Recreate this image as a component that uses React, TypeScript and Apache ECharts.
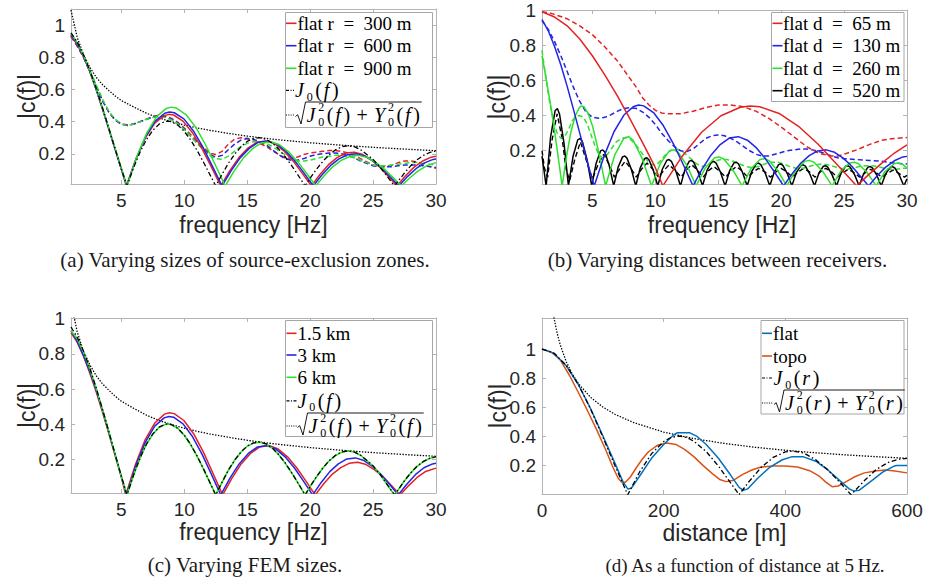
import React, { useEffect, useRef } from 'react';
import * as echarts from 'echarts';

// ---------------- tick values ----------------
const freqTicks = [5, 10, 15, 20, 25, 30];
const distTicks = [0, 200, 400, 600];
const corrTicks = [0.2, 0.4, 0.6, 0.8, 1];

// ---------------- shared reference curves (frequency panels a, c) ----------------
const besselJ0Freq = [[1,.952],[1.5,.893],[2,.814],[2.5,.718],[3,.607],[3.5,.486],[4,.36],[4.5,.231],[5,.106],[5.45,0],[6,.119],[6.5,.212],[7,.289],[7.5,.346],[8,.384],[8.5,.401],[8.75,.403],[9,.398],[9.5,.377],[10,.339],[10.5,.287],[11,.223],[11.5,.152],[12,.076],[12.5,0],[13,.072],[13.5,.14],[14,.197],[14.5,.243],[15,.277],[15.5,.295],[16,.3],[16.5,.29],[17,.266],[17.5,.229],[18,.183],[18.5,.13],[19,.072],[19.6,0],[20,.048],[20.5,.103],[21,.152],[21.5,.193],[22,.224],[22.5,.243],[23,.25],[23.5,.244],[24,.226],[24.5,.196],[25,.165],[25.5,.122],[26,.072],[26.7,0],[27,.03],[27.5,.081],[28,.126],[28.5,.163],[29,.19],[29.5,.208],[30,.217]];
const besselEnvFreq = [[1,1.093],[1.5,.922],[2,.814],[2.5,.737],[3,.676],[3.5,.63],[4,.594],[4.5,.56],[5,.531],[6,.49],[7,.452],[8,.422],[9,.399],[10,.378],[11,.361],[12,.346],[13,.333],[14,.321],[15,.31],[16,.3],[17,.291],[18,.283],[20,.2685],[22,.256],[24,.245],[26,.2355],[28,.227],[30,.219]];

// ---------------- (a) source-exclusion zones ----------------
const aFlat300 = [[1,.93],[1.5,.88],[2,.8],[2.5,.71],[3,.6],[3.5,.48],[4,.355],[4.5,.23],[5,.105],[5.4,0],[6.15,.166],[6.9,.298],[7.65,.39],[8.4,.437],[8.78,.445],[9.15,.441],[9.9,.403],[10.65,.331],[11.4,.233],[12.15,.118],[12.9,0],[13.62,.095],[14.34,.176],[15.06,.235],[15.78,.272],[16.5,.28],[17.22,.26],[17.94,.216],[18.66,.154],[19.38,.078],[20.1,0],[20.78,.071],[21.46,.132],[22.14,.176],[22.82,.204],[23.5,.21],[24.18,.195],[24.86,.162],[25.54,.116],[26.22,.059],[26.9,0],[27.58,.063],[28.26,.117],[28.94,.155],[29.62,.179],[30,.184]];
const aFlat600 = [[1,.94],[1.5,.885],[2,.805],[2.5,.712],[3,.6],[3.5,.48],[4,.355],[4.5,.23],[5,.105],[5.42,0],[6.18,.171],[6.94,.308],[7.69,.403],[8.45,.452],[8.83,.46],[9.21,.455],[9.97,.417],[10.73,.342],[11.48,.241],[12.24,.122],[13,0],[13.73,.095],[14.45,.176],[15.18,.235],[15.9,.272],[16.63,.28],[17.35,.26],[18.08,.216],[18.8,.154],[19.53,.078],[20.25,0],[20.93,.068],[21.61,.126],[22.29,.168],[22.97,.194],[23.65,.2],[24.33,.186],[25.01,.154],[25.69,.11],[26.37,.056],[27.05,0],[27.73,.058],[28.41,.107],[29.09,.143],[29.77,.165],[30,.168]];
const aFlat900 = [[1,.95],[1.5,.89],[2,.81],[2.5,.715],[3,.605],[3.5,.485],[4,.36],[4.5,.235],[5,.11],[5.45,0],[6.23,.182],[7.01,.328],[7.79,.429],[8.57,.482],[8.96,.49],[9.35,.485],[10.13,.444],[10.91,.365],[11.69,.256],[12.47,.13],[13.25,0],[13.97,.094],[14.69,.173],[15.41,.231],[16.13,.267],[16.85,.275],[17.57,.256],[18.29,.212],[19.01,.151],[19.73,.077],[20.45,0],[21.13,.065],[21.81,.12],[22.49,.16],[23.17,.184],[23.85,.19],[24.53,.177],[25.21,.146],[25.89,.105],[26.57,.053],[27.25,0],[27.93,.051],[28.61,.095],[29.29,.126],[30,.145]];
const aTopo300 = [[1,.93],[1.5,.87],[2,.8],[2.5,.71],[3,.62],[3.5,.53],[4,.46],[4.5,.41],[5,.385],[5.5,.38],[6,.385],[6.5,.4],[7,.415],[7.5,.43],[8,.44],[8.5,.435],[9,.42],[9.5,.395],[10,.36],[10.5,.32],[11,.28],[11.5,.24],[12,.205],[12.5,.195],[13,.215],[13.5,.26],[14,.29],[14.5,.3],[15,.295],[15.5,.28],[16,.265],[16.5,.245],[17,.22],[17.5,.195],[18,.175],[18.5,.17],[19,.18],[19.5,.195],[20,.205],[20.5,.21],[21,.215],[21.5,.22],[22,.22],[22.5,.215],[23,.205],[23.5,.19],[24,.17],[24.5,.15],[25,.13],[25.5,.12],[26,.12],[26.5,.13],[27,.145],[27.5,.155],[28,.155],[28.5,.15],[29,.135],[29.5,.12],[30,.11]];
const aTopo600 = [[1,.93],[1.5,.87],[2,.8],[2.5,.71],[3,.62],[3.5,.53],[4,.46],[4.5,.41],[5,.385],[5.5,.375],[6,.385],[6.5,.4],[7,.415],[7.5,.43],[8,.435],[8.5,.43],[9,.415],[9.5,.39],[10,.355],[10.5,.31],[11,.27],[11.5,.23],[12,.195],[12.5,.18],[13,.19],[13.5,.225],[14,.26],[14.5,.285],[15,.295],[15.5,.29],[16,.275],[16.5,.255],[17,.225],[17.5,.195],[18,.17],[18.5,.16],[19,.16],[19.5,.17],[20,.185],[20.5,.195],[21,.2],[21.5,.205],[22,.205],[22.5,.2],[23,.19],[23.5,.175],[24,.155],[24.5,.14],[25,.125],[25.5,.12],[26,.12],[26.5,.12],[27,.125],[27.5,.13],[28,.13],[28.5,.13],[29,.125],[29.5,.12],[30,.115]];
const aTopo900 = [[1,.94],[1.5,.88],[2,.81],[2.5,.72],[3,.63],[3.5,.54],[4,.465],[4.5,.415],[5,.385],[5.5,.375],[6,.385],[6.5,.4],[7,.415],[7.5,.425],[8,.43],[8.5,.425],[9,.41],[9.5,.385],[10,.35],[10.5,.31],[11,.265],[11.5,.225],[12,.19],[12.5,.17],[13,.165],[13.5,.185],[14,.215],[14.5,.245],[15,.265],[15.5,.275],[16,.275],[16.5,.265],[17,.245],[17.5,.22],[18,.195],[18.5,.17],[19,.155],[19.5,.155],[20,.16],[20.5,.17],[21,.18],[21.5,.185],[22,.19],[22.5,.19],[23,.185],[23.5,.175],[24,.16],[24.5,.145],[25,.13],[25.5,.125],[26,.125],[26.5,.13],[27,.135],[27.5,.14],[28,.145],[28.5,.145],[29,.14],[29.5,.135],[30,.13]];

// ---------------- (b) receiver distances ----------------
const bFlat65 = [[1,.99],[2,.96],[3,.91],[4,.835],[5,.74],[6,.63],[7,.51],[8,.38],[9,.245],[10,.105],[10.6,0],[12.14,.169],[13.68,.305],[15.22,.399],[16.76,.447],[17.53,.455],[18.3,.45],[19.84,.412],[21.38,.339],[22.92,.238],[24.46,.121],[26,0],[27,.067],[28,.13],[29,.187],[30,.234]];
const bTopo65 = [[1,.99],[1.5,.985],[2,.975],[3,.95],[4,.91],[5,.86],[6,.79],[7,.71],[8,.61],[8.5,.56],[9,.5],[9.5,.46],[10,.43],[10.5,.415],[11,.41],[11.5,.41],[12,.41],[13,.425],[14,.445],[15,.46],[16,.46],[17,.45],[18,.425],[19,.385],[20,.335],[21,.28],[22,.225],[23,.185],[24,.17],[24.5,.17],[25,.18],[26,.205],[27,.235],[28,.26],[29,.27],[30,.275]];
const bFlat130 = [[1,.946],[1.5,.882],[2,.793],[2.5,.687],[3,.566],[3.5,.435],[4,.3],[4.5,.163],[5,.035],[5.15,0],[5.94,.171],[6.72,.308],[7.51,.403],[8.29,.452],[8.68,.46],[9.08,.455],[9.86,.417],[10.65,.342],[11.43,.241],[12.22,.122],[13,0],[13.72,.095],[14.44,.176],[15.16,.235],[15.88,.272],[16.6,.28],[17.32,.26],[18.04,.216],[18.76,.154],[19.48,.078],[20.2,0],[20.88,.07],[21.55,.129],[22.23,.172],[22.9,.199],[23.58,.205],[24.25,.191],[24.93,.158],[25.6,.113],[26.28,.057],[26.95,0],[27.63,.058],[28.31,.107],[28.99,.143],[29.67,.165],[30,.168]];
const bTopo130 = [[1,.94],[1.5,.89],[2,.82],[2.5,.74],[3,.65],[3.5,.56],[4,.48],[4.5,.42],[5,.39],[5.5,.385],[6,.39],[6.5,.405],[7,.425],[7.5,.44],[8,.445],[8.5,.44],[9,.42],[9.5,.39],[10,.35],[10.5,.3],[11,.26],[11.5,.225],[12,.2],[12.5,.195],[13,.21],[13.5,.24],[14,.27],[14.5,.285],[15,.29],[15.5,.285],[16,.27],[16.5,.25],[17,.225],[17.5,.2],[18,.18],[18.5,.17],[19,.17],[19.5,.18],[20,.19],[20.5,.2],[21,.205],[21.5,.21],[22,.21],[22.5,.205],[23,.195],[23.5,.185],[24,.17],[24.5,.16],[25,.155],[26,.15],[27,.145],[28,.14],[29,.13],[30,.125]];
const bFlat260 = [[1,.74],[1.4,.58],[1.8,.41],[2.2,.21],[2.6,0],[2.95,.169],[3.29,.305],[3.64,.399],[3.98,.447],[4.15,.455],[4.33,.45],[4.67,.412],[5.02,.339],[5.36,.238],[5.71,.121],[6.05,0],[6.78,.176],[7.51,.272],[7.88,.28],[8.24,.26],[8.97,.154],[9.7,0],[10.41,.129],[11.12,.199],[11.48,.205],[11.83,.191],[12.54,.113],[13.25,0],[13.98,.104],[14.71,.16],[15.08,.165],[15.44,.153],[16.17,.091],[16.9,0],[17.61,.098],[18.32,.15],[18.68,.155],[19.03,.144],[19.74,.085],[20.45,0],[21.17,.091],[21.89,.141],[22.25,.145],[22.61,.135],[23.33,.08],[24.05,0],[24.75,.085],[25.45,.131],[25.8,.135],[26.15,.126],[26.85,.074],[27.55,0],[28.26,.082],[28.97,.126],[29.33,.13],[29.68,.121],[30,.103]];
const bTopo260 = [[1,.77],[1.3,.62],[1.6,.48],[1.9,.37],[2.2,.3],[2.5,.27],[2.8,.28],[3.1,.32],[3.4,.37],[3.7,.395],[4,.4],[4.3,.39],[4.6,.35],[4.9,.29],[5.2,.23],[5.5,.18],[5.8,.16],[6.1,.17],[6.5,.21],[6.9,.25],[7.3,.27],[7.7,.275],[8.1,.26],[8.5,.23],[8.9,.19],[9.3,.15],[9.7,.12],[10.1,.12],[10.5,.15],[10.9,.185],[11.3,.205],[11.7,.21],[12.1,.2],[12.5,.175],[12.9,.15],[13.3,.125],[13.7,.11],[14.2,.12],[14.7,.14],[15.2,.15],[15.7,.15],[16.2,.14],[16.7,.125],[17.2,.11],[17.7,.105],[18.2,.11],[18.7,.125],[19.2,.135],[19.7,.135],[20.2,.125],[20.7,.11],[21.2,.1],[21.7,.1],[22.2,.11],[22.7,.12],[23.2,.125],[23.7,.12],[24.2,.11],[24.7,.1],[25.2,.095],[25.7,.1],[26.2,.11],[26.7,.115],[27.2,.115],[27.7,.11],[28.2,.1],[28.7,.095],[29.2,.095],[29.6,.1],[30,.1]];
const bFlat520 = [[1,.17],[1.33,0],[1.68,.277],[2.04,.427],[2.22,.44],[2.39,.409],[2.75,.242],[3.1,0],[3.47,.17],[3.84,.262],[4.03,.27],[4.21,.251],[4.58,.149],[4.95,0],[5.3,.129],[5.65,.199],[5.83,.205],[6,.191],[6.35,.113],[6.7,0],[7.05,.107],[7.4,.165],[7.58,.17],[7.75,.158],[8.1,.094],[8.45,0],[8.8,.101],[9.15,.155],[9.33,.16],[9.5,.149],[9.85,.088],[10.2,0],[10.56,.095],[10.92,.146],[11.1,.15],[11.28,.14],[11.64,.083],[12,0],[12.35,.091],[12.7,.141],[12.88,.145],[13.05,.135],[13.4,.08],[13.75,0],[14.11,.088],[14.47,.136],[14.65,.14],[14.83,.13],[15.19,.077],[15.55,0],[15.9,.085],[16.25,.131],[16.43,.135],[16.6,.126],[16.95,.074],[17.3,0],[17.66,.082],[18.02,.126],[18.2,.13],[18.38,.121],[18.74,.072],[19.1,0],[19.45,.079],[19.8,.121],[19.98,.125],[20.15,.116],[20.5,.069],[20.85,0],[21.21,.076],[21.57,.116],[21.75,.12],[21.93,.112],[22.29,.066],[22.65,0],[23,.072],[23.35,.112],[23.53,.115],[23.7,.107],[24.05,.063],[24.4,0],[24.76,.072],[25.12,.112],[25.3,.115],[25.48,.107],[25.84,.063],[26.2,0],[26.55,.069],[26.9,.107],[27.08,.11],[27.25,.102],[27.6,.061],[27.95,0],[28.31,.069],[28.67,.107],[28.85,.11],[29.03,.102],[29.39,.061],[29.75,0],[30,.04]];
const bTopo520 = [[1,.2],[1.2,.1],[1.45,.05],[1.8,.26],[2.2,.41],[2.6,.27],[2.9,.1],[3.2,.03],[3.6,.15],[4.05,.25],[4.5,.15],[5,.04],[5.45,.12],[5.9,.18],[6.35,.12],[6.75,.05],[7.2,.1],[7.6,.14],[8.05,.1],[8.5,.05],[8.9,.095],[9.35,.13],[9.8,.095],[10.25,.05],[10.7,.09],[11.1,.12],[11.55,.09],[12.05,.05],[12.45,.09],[12.9,.12],[13.35,.09],[13.8,.05],[14.2,.085],[14.65,.11],[15.1,.085],[15.6,.05],[16,.085],[16.45,.11],[16.9,.085],[17.35,.05],[17.8,.08],[18.2,.1],[18.7,.08],[19.15,.05],[19.6,.08],[20,.1],[20.45,.08],[20.9,.05],[21.35,.08],[21.8,.1],[22.25,.08],[22.7,.05],[23.1,.08],[23.55,.1],[24,.08],[24.45,.05],[24.9,.075],[25.35,.095],[25.8,.075],[26.25,.05],[26.7,.075],[27.1,.095],[27.55,.075],[28,.05],[28.45,.072],[28.9,.09],[29.35,.072],[29.8,.05],[30,.06]];

// ---------------- (c) FEM sizes ----------------
const cFem15 = [[1,.92],[1.5,.865],[2,.785],[2.5,.69],[3,.585],[3.5,.47],[4,.35],[4.5,.225],[5,.1],[5.35,0],[6.12,.173],[6.89,.312],[7.66,.408],[8.43,.458],[8.82,.466],[9.2,.461],[9.97,.422],[10.74,.347],[11.51,.244],[12.28,.123],[13.05,0],[13.79,.095],[14.52,.176],[15.26,.235],[15.99,.272],[16.73,.28],[17.46,.26],[18.2,.216],[18.93,.154],[19.67,.078],[20.4,0],[21.08,.063],[21.75,.117],[22.43,.155],[23.1,.179],[23.78,.185],[24.45,.172],[25.13,.142],[25.8,.102],[26.48,.052],[27.15,0],[27.83,.053],[28.5,.099],[29.18,.133],[30,.152]];
const cFem3 = [[1,.93],[1.5,.87],[2,.79],[2.5,.7],[3,.595],[3.5,.48],[4,.355],[4.5,.23],[5,.105],[5.4,0],[6.15,.166],[6.9,.298],[7.65,.39],[8.4,.437],[8.78,.445],[9.15,.441],[9.9,.403],[10.65,.331],[11.4,.233],[12.15,.118],[12.9,0],[13.63,.095],[14.36,.176],[15.09,.235],[15.82,.272],[16.55,.28],[17.28,.26],[18.01,.216],[18.74,.154],[19.47,.078],[20.2,0],[20.88,.071],[21.56,.132],[22.24,.176],[22.92,.204],[23.6,.21],[24.28,.195],[24.96,.162],[25.64,.116],[26.32,.059],[27,0],[27.68,.061],[28.36,.115],[29.04,.154],[29.72,.176],[30,.18]];
const cFem6 = [[1,.93],[1.5,.885],[2,.81],[2.5,.715],[3,.605],[3.5,.485],[4,.36],[4.5,.23],[5,.105],[5.45,0],[6,.118],[6.5,.211],[7,.288],[7.5,.345],[8,.383],[8.5,.4],[8.75,.402],[9,.397],[9.5,.376],[10,.338],[10.5,.286],[11,.222],[11.5,.151],[12,.075],[12.5,0],[13,.071],[13.5,.139],[14,.196],[14.5,.242],[15,.276],[15.5,.294],[16,.299],[16.5,.289],[17,.265],[17.5,.228],[18,.182],[18.5,.129],[19,.071],[19.6,0],[20,.047],[20.5,.102],[21,.151],[21.5,.192],[22,.223],[22.5,.242],[23,.249],[23.5,.243],[24,.225],[24.5,.195],[25,.164],[25.5,.121],[26,.071],[26.7,0],[27,.029],[27.5,.08],[28,.125],[28.5,.162],[29,.189],[29.5,.207],[30,.216]];

// ---------------- (d) distance at 5 Hz ----------------
const dFlat = [[0,1],[20,.97],[40,.885],[60,.755],[80,.59],[100,.405],[120,.215],[133,.09],[141,.04],[147,.045],[160,.125],[180,.25],[200,.345],[215,.405],[222,.425],[243,.425],[255,.4],[270,.345],[290,.25],[310,.135],[324,.05],[331,.03],[338,.04],[355,.115],[375,.19],[395,.24],[410,.26],[430,.26],[450,.23],[470,.17],[490,.095],[505,.04],[513,.025],[521,.03],[540,.09],[560,.155],[578,.195],[583,.2],[600,.2]];
const dTopo = [[0,1],[15,.98],[30,.925],[45,.82],[60,.7],[75,.575],[90,.445],[105,.305],[117,.185],[125,.115],[131,.085],[137,.085],[145,.12],[155,.185],[165,.245],[175,.295],[190,.34],[205,.355],[220,.345],[235,.31],[250,.26],[265,.2],[280,.145],[292,.105],[303,.09],[315,.1],[330,.14],[345,.17],[360,.19],[380,.197],[400,.197],[420,.19],[440,.165],[455,.13],[467,.085],[477,.055],[487,.06],[500,.09],[515,.125],[530,.15],[550,.165],[565,.17],[580,.163],[600,.15]];
const dJ0 = [[0,1],[20,.971],[40,.887],[60,.755],[80,.587],[100,.396],[120,.199],[141,0],[160,.153],[180,.281],[200,.365],[212,.393],[225,.403],[238,.393],[250,.366],[270,.296],[290,.197],[310,.082],[324,0],[340,.089],[360,.186],[380,.256],[400,.294],[412,.3],[430,.287],[450,.24],[470,.17],[490,.083],[508,0],[530,.097],[550,.175],[570,.223],[585,.243],[600,.249]];
const dEnv = [[18,1.258],[20,1.208],[25,1.107],[30,1.029],[40,.911],[50,.827],[60,.762],[80,.668],[100,.602],[120,.552],[150,.496],[200,.43],[250,.385],[300,.352],[350,.326],[400,.305],[450,.288],[500,.273],[550,.261],[600,.25]];

// ---------------- labels ----------------
const legendA = ['flat r\u2002=\u2002300 m', 'flat r\u2002=\u2002600 m', 'flat r\u2002=\u2002900 m'];
const legendB = ['flat d\u2002=\u200265 m', 'flat d\u2002=\u2002130 m', 'flat d\u2002=\u2002260 m', 'flat d\u2002=\u2002520 m'];
const legendC = ['1.5 km', '3 km', '6 km'];
const legendD = ['flat', 'topo'];
const captions = ['(a) Varying sizes of source-exclusion zones.', '(b) Varying distances between receivers.', '(c) Varying FEM sizes.', '(d) As a function of distance at 5\u2009Hz.'];

// ---------------- styling ----------------
const RED = '#e52222', BLUE = '#2424e6', GREEN = '#2fe02f', BLACK = '#000000';
const FLATC = '#0072bd', TOPOC = '#d95319';
const AX = '#b4b4b4';
const SERIF = '"Liberation Serif", "Times New Roman", serif';
const SANS = '"Liberation Sans", Arial, Helvetica, sans-serif';
const DASH = [5, 3];
const DASHDOT = [5, 2.5, 1.5, 2.5];
const DOT = [1.4, 1.5];
const MATH = 20;

let mctx: CanvasRenderingContext2D | null = null;
function textWidth(s: string, size: number, italic = false): number {
  if (!mctx) mctx = document.createElement('canvas').getContext('2d');
  if (!mctx) return s.length * size * 0.5;
  mctx.font = `${italic ? 'italic ' : ''}${size}px ${SERIF}`;
  return mctx.measureText(s).width;
}

function txt(x: number, y: number, s: string, size: number, o: any = {}) {
  return {
    type: 'text', x, y, z: 100, silent: true, rotation: o.rotation || 0,
    style: {
      text: s, fontSize: size, fontFamily: o.family || SERIF, fontStyle: o.italic ? 'italic' : 'normal',
      fill: o.fill || '#000', align: o.align || 'left', verticalAlign: 'middle',
    },
  };
}

type Tok = { t?: string; it?: boolean; sub?: string; sup?: string; gap?: number };
function mathEls(x0: number, y: number, toks: Tok[], size: number) {
  const els: any[] = [];
  let x = x0;
  const ss = 12;
  for (const k of toks) {
    if (k.gap) { x += k.gap; continue; }
    if (k.sub !== undefined) {
      els.push(txt(x, y + 6.6, k.sub, ss));
      let w = textWidth(k.sub, ss);
      if (k.sup) { els.push(txt(x, y - 8.2, k.sup, ss)); w = Math.max(w, textWidth(k.sup, ss)); }
      x += w + 2.5;
      continue;
    }
    const s = k.t || '';
    els.push(txt(x, y, s, size, { italic: k.it }));
    x += textWidth(s, size, k.it) + (k.it ? 2.8 : 1.8);
  }
  return { els, end: x };
}

function j0Toks(v: string): Tok[] {
  return [{ t: 'J', it: true }, { sub: '0' }, { t: '(' }, { t: v, it: true }, { t: ')' }];
}
function envToks(v: string): Tok[] {
  return [
    { t: 'J', it: true }, { sub: '0', sup: '2' }, { t: '(' }, { t: v, it: true }, { t: ')' },
    { gap: 4.5 }, { t: '+' }, { gap: 4.5 },
    { t: 'Y', it: true }, { sub: '0', sup: '2' }, { t: '(' }, { t: v, it: true }, { t: ')' },
  ];
}

type Row = { y: number; color: string; dash: number[] | null; lw: number; x1: number; x2: number; tx: number; label?: string; math?: Tok[]; sqrt?: boolean };
function legendEls(box: number[], rows: Row[]) {
  const els: any[] = [{
    type: 'rect', z: 99, silent: true,
    shape: { x: box[0], y: box[1], width: box[2], height: box[3] },
    style: { fill: '#ffffff', stroke: '#a6a6a6', lineWidth: 1 },
  }];
  for (const r of rows) {
    els.push({ type: 'line', z: 100, silent: true, shape: { x1: r.x1, y1: r.y, x2: r.x2, y2: r.y }, style: { stroke: r.color, lineWidth: r.lw, lineDash: r.dash } });
    if (r.label) {
      els.push(txt(r.tx, r.y, r.label, 19));
    } else if (r.math && r.sqrt) {
      const m = mathEls(r.tx + 11, r.y, r.math, MATH);
      els.push({
        type: 'polyline', z: 100, silent: true,
        shape: { points: [[r.tx, r.y + 1.5], [r.tx + 2.2, r.y - 0.3], [r.tx + 5.5, r.y + 9], [r.tx + 10, r.y - 13], [m.end, r.y - 13]] },
        style: { stroke: '#000', lineWidth: 0.9, fill: null },
      });
      els.push(...m.els);
    } else if (r.math) {
      els.push(...mathEls(r.tx, r.y, r.math, MATH).els);
    }
  }
  return els;
}

const grids = [
  { left: 71, top: 9, width: 365, height: 175 },
  { left: 542, top: 10, width: 365, height: 174 },
  { left: 71, top: 318, width: 365, height: 175 },
  { left: 542, top: 318, width: 365, height: 176 },
];
const yRanges = [[0.012, 1.1], [0.011, 1], [0.011, 1.003], [0.005, 1.213]];
const xRanges = [[1, 30], [1, 30], [1, 30], [0, 600]];

function axisPair(gi: number, min: number, max: number, ticks: number[], isX: boolean) {
  const common: any = {
    type: 'value', gridIndex: gi, min, max,
    splitLine: { show: false },
    axisLine: { show: true, onZero: false, lineStyle: { color: AX, width: 1 } },
    axisTick: { show: true, inside: true, length: 4, customValues: ticks, lineStyle: { color: AX } },
  };
  const lab = {
    show: true, customValues: ticks, margin: isX ? 7 : 6, color: '#262626', fontSize: 19, fontFamily: SANS,
  };
  return [
    { ...common, position: isX ? 'bottom' : 'left', axisLabel: lab },
    { ...common, position: isX ? 'top' : 'right', axisLabel: { show: false } },
  ];
}

function line(data: number[][], gi: number, color: string, width: number, dash: number[] | 'solid', z = 2) {
  return {
    type: 'line', xAxisIndex: gi * 2, yAxisIndex: gi * 2, data, showSymbol: false, symbol: 'none',
    clip: true, silent: true, z, emphasis: { disabled: true },
    lineStyle: { color, width, type: dash },
  };
}

function buildOption() {
  const xAxis: any[] = [];
  const yAxis: any[] = [];
  for (let g = 0; g < 4; g++) {
    xAxis.push(...axisPair(g, xRanges[g][0], xRanges[g][1], g === 3 ? distTicks : freqTicks, true));
    yAxis.push(...axisPair(g, yRanges[g][0], yRanges[g][1], corrTicks, false));
  }
  const series = [
    // (a)
    line(besselEnvFreq, 0, BLACK, 1.3, DOT),
    line(aTopo300, 0, RED, 1.5, DASH), line(aTopo600, 0, BLUE, 1.5, DASH), line(aTopo900, 0, GREEN, 1.5, DASH),
    line(aFlat300, 0, RED, 1.5, 'solid'), line(aFlat600, 0, BLUE, 1.5, 'solid'), line(aFlat900, 0, GREEN, 1.5, 'solid'),
    line(besselJ0Freq, 0, BLACK, 1.3, DASHDOT, 3),
    // (b)
    line(bTopo520, 1, BLACK, 1.4, DASH), line(bTopo260, 1, GREEN, 1.5, DASH), line(bTopo130, 1, BLUE, 1.5, DASH), line(bTopo65, 1, RED, 1.5, DASH),
    line(bFlat520, 1, BLACK, 1.5, 'solid'), line(bFlat260, 1, GREEN, 1.5, 'solid'), line(bFlat130, 1, BLUE, 1.5, 'solid'), line(bFlat65, 1, RED, 1.5, 'solid'),
    // (c)
    line(besselEnvFreq, 2, BLACK, 1.3, DOT),
    line(cFem15, 2, RED, 1.5, 'solid'), line(cFem3, 2, BLUE, 1.5, 'solid'), line(cFem6, 2, GREEN, 1.6, 'solid'),
    line(besselJ0Freq, 2, BLACK, 1.3, DASHDOT, 3),
    // (d)
    line(dEnv, 3, BLACK, 1.3, DOT),
    line(dTopo, 3, TOPOC, 1.5, 'solid'), line(dFlat, 3, FLATC, 1.5, 'solid'),
    line(dJ0, 3, BLACK, 1.3, DASHDOT, 3),
  ];

  const solid = null;
  const elements: any[] = [];
  // legend (a)
  elements.push(...legendEls([285.5, 12.5, 147, 115], [
    { y: 23.3, color: RED, dash: solid, lw: 1.6, x1: 286, x2: 296.5, tx: 297.5, label: legendA[0] },
    { y: 45.7, color: BLUE, dash: solid, lw: 1.6, x1: 286, x2: 296.5, tx: 297.5, label: legendA[1] },
    { y: 68.3, color: GREEN, dash: solid, lw: 1.6, x1: 286, x2: 296.5, tx: 297.5, label: legendA[2] },
    { y: 90.3, color: BLACK, dash: [3, 1.5, 1, 1.5], lw: 1.2, x1: 286, x2: 294, tx: 295, math: j0Toks('f') },
    { y: 115, color: BLACK, dash: [1, 1.3], lw: 1.2, x1: 286, x2: 295, tx: 295.5, math: envToks('f'), sqrt: true },
  ]));
  // legend (b)
  elements.push(...legendEls([771.5, 12.5, 132.5, 89], [
    { y: 23.3, color: RED, dash: solid, lw: 1.6, x1: 772.5, x2: 782.5, tx: 783, label: legendB[0] },
    { y: 45.7, color: BLUE, dash: solid, lw: 1.6, x1: 772.5, x2: 782.5, tx: 783, label: legendB[1] },
    { y: 68.3, color: GREEN, dash: solid, lw: 1.6, x1: 772.5, x2: 782.5, tx: 783, label: legendB[2] },
    { y: 90.7, color: BLACK, dash: solid, lw: 1.6, x1: 772.5, x2: 782.5, tx: 783, label: legendB[3] },
  ]));
  // legend (c)
  elements.push(...legendEls([285.5, 320.5, 147, 116], [
    { y: 333.3, color: RED, dash: solid, lw: 1.6, x1: 286.5, x2: 296.5, tx: 297.5, label: legendC[0] },
    { y: 355, color: BLUE, dash: solid, lw: 1.6, x1: 286.5, x2: 296.5, tx: 297.5, label: legendC[1] },
    { y: 377.3, color: GREEN, dash: solid, lw: 1.6, x1: 286.5, x2: 296.5, tx: 297.5, label: legendC[2] },
    { y: 400.8, color: BLACK, dash: [3, 1.5, 1, 1.5], lw: 1.2, x1: 286.5, x2: 296.5, tx: 297.5, math: j0Toks('f') },
    { y: 426, color: BLACK, dash: [1, 1.3], lw: 1.2, x1: 286.5, x2: 297, tx: 297.5, math: envToks('f'), sqrt: true },
  ]));
  // legend (d)
  elements.push(...legendEls([761, 320.5, 143, 93.5], [
    { y: 333.3, color: FLATC, dash: solid, lw: 1.6, x1: 762, x2: 772, tx: 773, label: legendD[0] },
    { y: 356, color: TOPOC, dash: solid, lw: 1.6, x1: 762, x2: 772, tx: 773, label: legendD[1] },
    { y: 378, color: BLACK, dash: [3, 1.5, 1, 1.5], lw: 1.2, x1: 762, x2: 772, tx: 773.5, math: j0Toks('r') },
    { y: 403, color: BLACK, dash: [1, 1.3], lw: 1.2, x1: 762, x2: 773, tx: 774, math: envToks('r'), sqrt: true },
  ]));

  // axis names
  const yl = [[27, 96.5], [497, 97], [27, 405.5], [498, 406]];
  for (const [x, y] of yl) elements.push(txt(x, y, '|c(f)|', 23, { family: SANS, align: 'center', rotation: Math.PI / 2, fill: '#262626' }));
  elements.push(txt(253.5, 225, 'frequency [Hz]', 23, { family: SANS, align: 'center', fill: '#262626' }));
  elements.push(txt(722, 225, 'frequency [Hz]', 23, { family: SANS, align: 'center', fill: '#262626' }));
  elements.push(txt(253.5, 531.5, 'frequency [Hz]', 23, { family: SANS, align: 'center', fill: '#262626' }));
  elements.push(txt(724.5, 533, 'distance [m]', 23, { family: SANS, align: 'center', fill: '#262626' }));

  // captions
  elements.push(txt(245, 260, captions[0], 21, { align: 'center', fill: '#1a1a1a' }));
  elements.push(txt(717.5, 260, captions[1], 21, { align: 'center', fill: '#1a1a1a' }));
  elements.push(txt(245, 565, captions[2], 21, { align: 'center', fill: '#1a1a1a' }));
  elements.push(txt(745, 565, captions[3], 19, { align: 'center', fill: '#1a1a1a' }));

  return {
    animation: false,
    backgroundColor: '#ffffff',
    grid: grids.map((g) => ({ ...g, containLabel: false, outerBoundsMode: 'none' })),
    xAxis,
    yAxis,
    series,
    graphic: { elements },
  };
}

export default function App() {
  const ref = useRef<HTMLDivElement>(null);
  useEffect(() => {
    if (!ref.current) return;
    const chart = echarts.init(ref.current, null, { renderer: 'svg' });
    chart.setOption(buildOption() as any);
    return () => chart.dispose();
  }, []);
  return <div ref={ref} style={{ position: 'absolute', left: 0, top: 0, width: 943, height: 586, background: '#fff' }} />;
}
